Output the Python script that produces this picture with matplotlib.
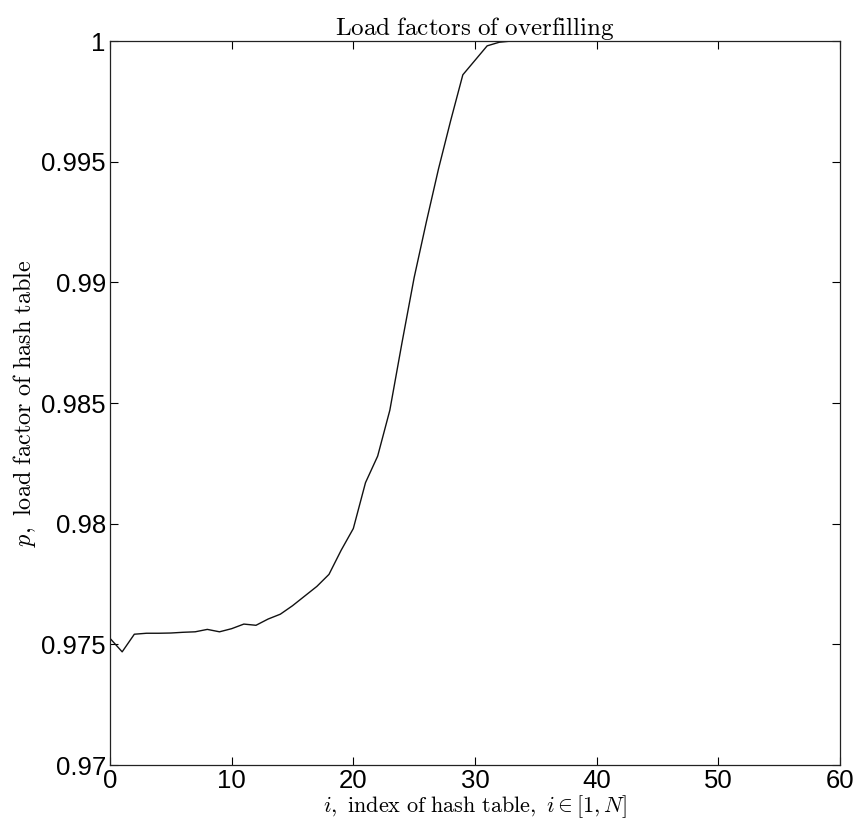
import numpy as np
import matplotlib
matplotlib.use("Agg")
import matplotlib.pyplot as plt
from matplotlib.ticker import FuncFormatter

# load factor of each hash table when the structure overfills
table_index = [0, 1, 2, 3, 4, 5, 6, 7, 8, 9, 10, 11, 12, 13, 14, 15, 16,
               17, 18, 19, 20, 21, 22, 23, 24, 25, 26, 27, 28, 29, 30, 31,
               32, 33, 34]
load_factor = [0.97525, 0.97469, 0.97542, 0.97546, 0.97546, 0.97547,
               0.97550, 0.97552, 0.97562, 0.97552, 0.97565, 0.97584,
               0.97579, 0.97605, 0.97625, 0.97660, 0.97700, 0.97740,
               0.97790, 0.97890, 0.97980, 0.98170, 0.98280, 0.98470,
               0.98750, 0.99020, 0.99250, 0.99470, 0.99670, 0.99860,
               0.99920, 0.99980, 0.99995, 1.00000, 1.00000]

x_ticks = [0, 10, 20, 30, 40, 50, 60]
y_ticks = [0.97, 0.975, 0.98, 0.985, 0.99, 0.995, 1.0]

plt.rcParams['mathtext.fontset'] = 'cm'
plt.rcParams['font.family'] = ['Liberation Sans', 'DejaVu Sans']

fig = plt.figure(figsize=(8.56, 8.32), dpi=100, facecolor='white')
ax = fig.add_axes([0.1285, 0.0805, 0.8528, 0.8702])

ax.plot(table_index, load_factor, color='#111111', linewidth=1.0)

ax.set_xlim(0, 60)
ax.set_ylim(0.97, 1.0)
ax.set_xticks(x_ticks)
ax.set_yticks(y_ticks)
ax.yaxis.set_major_formatter(FuncFormatter(lambda v, pos: '%g' % round(v, 4)))

ax.tick_params(direction='in', length=5.5, width=0.8, top=True, right=True,
               labelsize=18.5, pad=3, colors='black')
for s in ax.spines.values():
    s.set_linewidth(0.9)
    s.set_color('#222222')

ax.set_title(r'$\mathrm{Load\ factors\ of\ overfilling}$', fontsize=18, pad=4)
ax.set_xlabel(r'$i\mathrm{,\ index\ of\ hash\ table,}\ i \in [1, N]$',
              fontsize=16, labelpad=0)
ax.set_ylabel(r'$p\mathrm{,\ load\ factor\ of\ hash\ table}$',
              fontsize=17.5, labelpad=2)

fig.savefig('out.png', dpi=100, facecolor='white')
